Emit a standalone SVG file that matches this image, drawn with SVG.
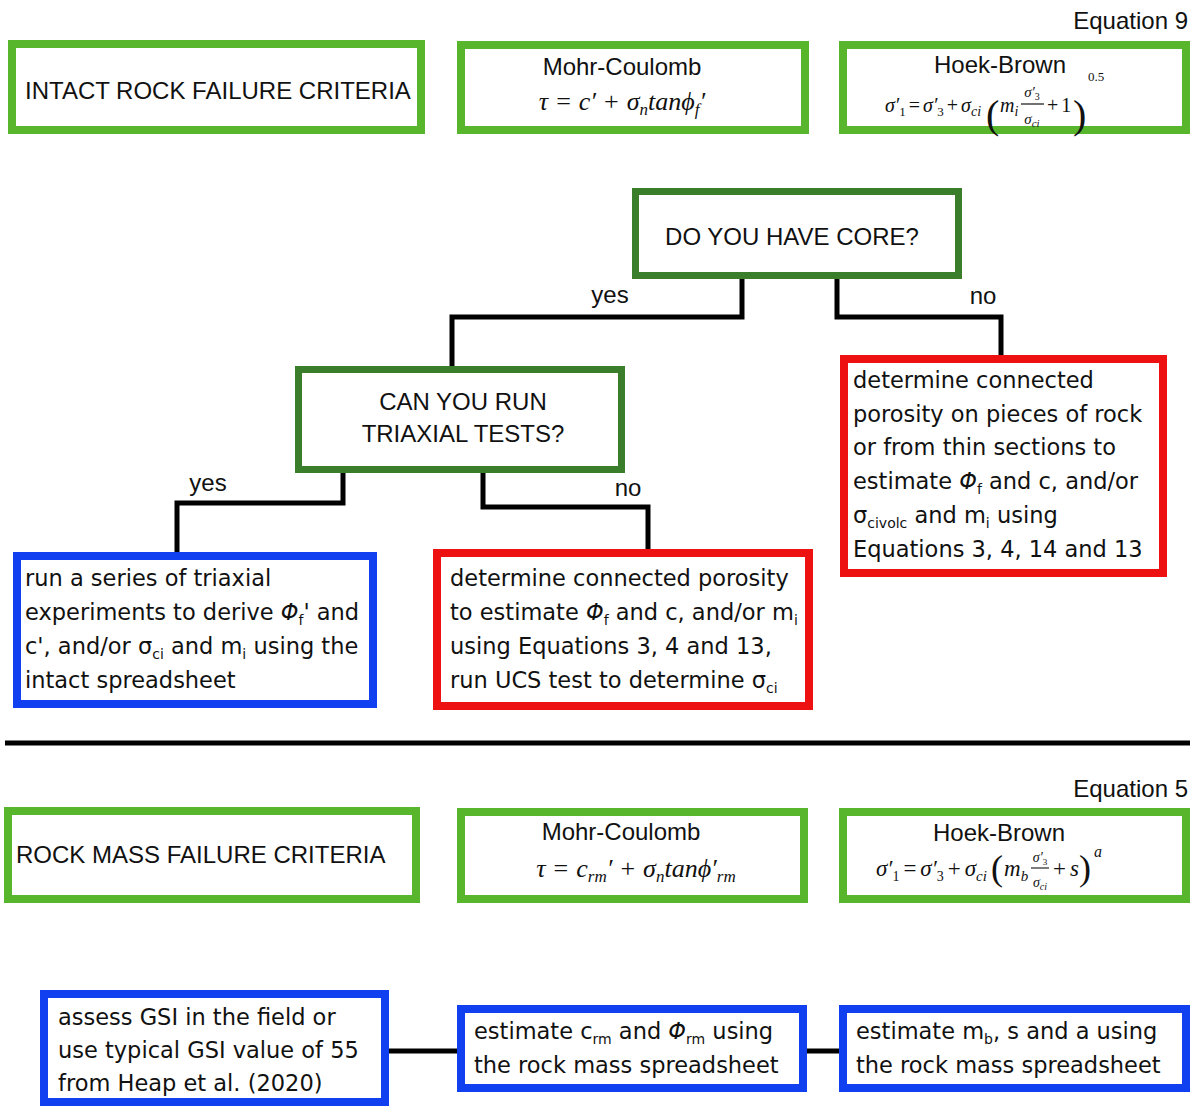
<svg xmlns="http://www.w3.org/2000/svg" width="1192" height="1106" viewBox="0 0 1192 1106">
<style>
.lg{fill:#fff;stroke:#58b62c;stroke-width:8}
.dg{fill:#fff;stroke:#3a7d2a;stroke-width:7}
.bl{fill:#fff;stroke:#1040f0;stroke-width:8}
.rd{fill:#fff;stroke:#ee1111;stroke-width:8}
.con{fill:none;stroke:#000;stroke-width:5}
.h{font-family:"Liberation Sans",Arial,sans-serif;font-size:24px;fill:#111}
.t{font-family:"DejaVu Sans",sans-serif;font-size:22.5px;fill:#111}
.sb{font-size:14px}
.m{font-family:"Liberation Serif","DejaVu Serif",serif;font-style:italic;fill:#111}
.r{font-style:normal}
</style>
<rect width="1192" height="1106" fill="#fff"/>

<g id="connectors">
<path class="con" d="M742 279V317H452V369"/>
<path class="con" d="M837 279V317H1001V357"/>
<path class="con" d="M343 473V503H177V555"/>
<path class="con" d="M483 473V507H648V552"/>
<line class="con" x1="5" y1="743" x2="1190" y2="743"/>
<line class="con" x1="387" y1="1051" x2="459" y2="1051"/>
<line class="con" x1="805" y1="1051" x2="841" y2="1051"/>
<text class="h" x="610" y="303" text-anchor="middle">yes</text>
<text class="h" x="983" y="304" text-anchor="middle">no</text>
<text class="h" x="208" y="491" text-anchor="middle">yes</text>
<text class="h" x="628" y="496" text-anchor="middle">no</text>
</g>

<text id="eq9" class="h" x="1188" y="29" text-anchor="end">Equation 9</text>

<g id="intact-title">
<rect class="lg" x="12" y="44" width="409" height="86"/>
<text class="h" x="25" y="99">INTACT ROCK FAILURE CRITERIA</text>
</g>

<g id="intact-mc">
<rect class="lg" x="461" y="45" width="344" height="85"/>
<text class="h" x="622" y="75" text-anchor="middle">Mohr-Coulomb</text>
<text class="m" x="622" y="110" font-size="26" text-anchor="middle">τ<tspan class="r" dx="8">=</tspan><tspan dx="8">c′</tspan><tspan class="r" dx="8">+</tspan><tspan dx="8">σ</tspan><tspan font-size="17" dy="5">n</tspan><tspan dy="-5">tanϕ</tspan><tspan font-size="17" dy="5">f</tspan><tspan dy="-5">′</tspan></text>
</g>

<g id="intact-hb">
<rect class="lg" x="843" y="45" width="343" height="85"/>
<text class="h" x="1000" y="73" text-anchor="middle">Hoek-Brown</text>
<text class="m" x="885" y="112" font-size="20">σ′<tspan class="r" font-size="13" dy="4">1</tspan><tspan class="r" dy="-4" dx="3">=</tspan><tspan dx="3">σ′</tspan><tspan class="r" font-size="13" dy="4">3</tspan><tspan class="r" dy="-4" dx="3">+</tspan><tspan dx="3">σ</tspan><tspan font-size="14" dy="4">ci</tspan></text>
<text class="m r" x="986" y="128" font-size="40">(</text>
<text class="m" x="1000" y="112" font-size="20">m<tspan font-size="14" dy="4">i</tspan></text>
<text class="m" x="1032" y="97" font-size="15" text-anchor="middle">σ′<tspan class="r" font-size="10" dy="3">3</tspan></text>
<line x1="1021" y1="104" x2="1044" y2="104" stroke="#111" stroke-width="1.2"/>
<text class="m" x="1032" y="124" font-size="15" text-anchor="middle">σ<tspan font-size="11" dy="3">ci</tspan></text>
<text class="m r" x="1047" y="112" font-size="20">+<tspan dx="3">1</tspan></text>
<text class="m r" x="1073" y="128" font-size="40">)</text>
<text class="m r" x="1088" y="81" font-size="13">0.5</text>
</g>

<g id="q-core">
<rect class="dg" x="635.5" y="191.5" width="323" height="84"/>
<text class="h" x="792" y="245" text-anchor="middle">DO YOU HAVE CORE?</text>
</g>

<g id="q-triaxial">
<rect class="dg" x="298.5" y="369.5" width="323" height="100"/>
<text class="h" x="463" y="410" text-anchor="middle">CAN YOU RUN</text>
<text class="h" x="463" y="442" text-anchor="middle">TRIAXIAL TESTS?</text>
</g>

<g id="no-core">
<rect class="rd" x="844" y="359" width="319" height="214"/>
<text class="t" x="853" y="388">determine connected</text>
<text class="t" x="853" y="422">porosity on pieces of rock</text>
<text class="t" x="853" y="455">or from thin sections to</text>
<text class="t" x="853" y="489">estimate <tspan font-style="italic">Φ</tspan><tspan class="sb" dy="5">f</tspan><tspan dy="-5"> and c, and/or</tspan></text>
<text class="t" x="853" y="523">σ<tspan class="sb" dy="5">civolc</tspan><tspan dy="-5"> and m</tspan><tspan class="sb" dy="5">i</tspan><tspan dy="-5"> using</tspan></text>
<text class="t" x="853" y="557">Equations 3, 4, 14 and 13</text>
</g>

<g id="triaxial-yes">
<rect class="bl" x="17" y="556" width="356" height="148"/>
<text class="t" x="25" y="586">run a series of triaxial</text>
<text class="t" x="25" y="620">experiments to derive <tspan font-style="italic">Φ</tspan><tspan class="sb" dy="5">f</tspan><tspan dy="-5">' and</tspan></text>
<text class="t" x="25" y="654">c', and/or σ<tspan class="sb" dy="5">ci</tspan><tspan dy="-5"> and m</tspan><tspan class="sb" dy="5">i</tspan><tspan dy="-5"> using the</tspan></text>
<text class="t" x="25" y="688">intact spreadsheet</text>
</g>

<g id="triaxial-no">
<rect class="rd" x="437" y="553" width="372" height="153"/>
<text class="t" x="450" y="586">determine connected porosity</text>
<text class="t" x="450" y="620">to estimate <tspan font-style="italic">Φ</tspan><tspan class="sb" dy="5">f</tspan><tspan dy="-5"> and c, and/or m</tspan><tspan class="sb" dy="5">i</tspan></text>
<text class="t" x="450" y="654">using Equations 3, 4 and 13,</text>
<text class="t" x="450" y="688">run UCS test to determine σ<tspan class="sb" dy="5">ci</tspan></text>
</g>

<text id="eq5" class="h" x="1188" y="797" text-anchor="end">Equation 5</text>

<g id="mass-title">
<rect class="lg" x="8" y="811" width="408" height="88"/>
<text class="h" x="16" y="863">ROCK MASS FAILURE CRITERIA</text>
</g>

<g id="mass-mc">
<rect class="lg" x="461" y="812" width="343" height="87"/>
<text class="h" x="621" y="840" text-anchor="middle">Mohr-Coulomb</text>
<text class="m" x="636" y="877" font-size="26" text-anchor="middle">τ<tspan class="r" dx="8">=</tspan><tspan dx="8">c</tspan><tspan font-size="17" dy="5">rm</tspan><tspan dy="-5">′</tspan><tspan class="r" dx="8">+</tspan><tspan dx="8">σ</tspan><tspan font-size="17" dy="5">n</tspan><tspan dy="-5">tanϕ′</tspan><tspan font-size="17" dy="5">rm</tspan></text>
</g>

<g id="mass-hb">
<rect class="lg" x="843" y="812" width="343" height="87"/>
<text class="h" x="999" y="841" text-anchor="middle">Hoek-Brown</text>
<text class="m" x="876" y="876" font-size="23">σ′<tspan class="r" font-size="14" dy="5">1</tspan><tspan class="r" dy="-5" dx="4">=</tspan><tspan dx="4">σ′</tspan><tspan class="r" font-size="14" dy="5">3</tspan><tspan class="r" dy="-5" dx="4">+</tspan><tspan dx="4">σ</tspan><tspan font-size="15" dy="5">ci</tspan></text>
<text class="m r" x="991" y="880" font-size="36">(</text>
<text class="m" x="1004" y="876" font-size="23">m<tspan font-size="15" dy="5">b</tspan></text>
<text class="m" x="1040" y="862" font-size="14" text-anchor="middle">σ′<tspan class="r" font-size="9" dy="3">3</tspan></text>
<line x1="1031" y1="868" x2="1049" y2="868" stroke="#111" stroke-width="1.1"/>
<text class="m" x="1040" y="887" font-size="14" text-anchor="middle">σ<tspan font-size="10" dy="3">ci</tspan></text>
<text class="m" x="1053" y="876" font-size="23"><tspan class="r">+</tspan><tspan dx="4">s</tspan></text>
<text class="m r" x="1079" y="880" font-size="36">)</text>
<text class="m" x="1094" y="857" font-size="16">a</text>
</g>

<g id="gsi">
<rect class="bl" x="44" y="994" width="341" height="108"/>
<text class="t" x="58" y="1025">assess GSI in the field or</text>
<text class="t" x="58" y="1058">use typical GSI value of 55</text>
<text class="t" x="58" y="1091">from Heap et al. (2020)</text>
</g>

<g id="est-mc">
<rect class="bl" x="461" y="1009" width="342" height="79"/>
<text class="t" x="474" y="1039">estimate c<tspan class="sb" dy="5">rm</tspan><tspan dy="-5"> and </tspan><tspan font-style="italic">Φ</tspan><tspan class="sb" dy="5">rm</tspan><tspan dy="-5"> using</tspan></text>
<text class="t" x="474" y="1073">the rock mass spreadsheet</text>
</g>

<g id="est-hb">
<rect class="bl" x="843" y="1009" width="343" height="79"/>
<text class="t" x="856" y="1039">estimate m<tspan class="sb" dy="5">b</tspan><tspan dy="-5">, s and a using</tspan></text>
<text class="t" x="856" y="1073">the rock mass spreadsheet</text>
</g>
</svg>
